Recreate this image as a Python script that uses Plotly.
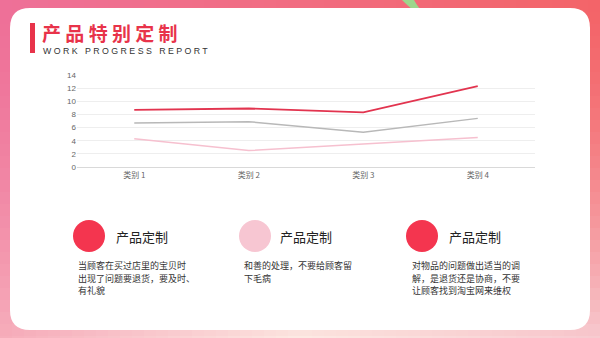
import plotly.graph_objects as go

W, H = 600, 338

categories = ["类别 1", "类别 2", "类别 3", "类别 4"]
series_red = [8.7, 8.9, 8.3, 12.3]
series_gray = [6.7, 6.9, 5.3, 7.4]
series_pink = [4.3, 2.5, 3.5, 4.5]
y_ticks = [0, 2, 4, 6, 8, 10, 12, 14]

title_text = "产 品 特 别 定 制"
subtitle_text = "W O R K   P R O G R E S S   R E P O R T"
card_heading = "产品定制"
card_lines = [
    ["当顾客在买过店里的宝贝时", "出现了问题要退货，要及时、", "有礼貌"],
    ["和善的处理，不要给顾客留", "下毛病"],
    ["对物品的问题做出适当的调", "解，是退货还是协商，不要", "让顾客找到淘宝网来维权"],
]
card_colors = ["#f4354f", "#f7c6d2", "#f4354f"]

fig = go.Figure()

fig.add_trace(go.Scatter(x=categories, y=series_red, mode="lines",
                         line=dict(color="#e2344f", width=1.8), showlegend=False))
fig.add_trace(go.Scatter(x=categories, y=series_gray, mode="lines",
                         line=dict(color="#b8b8b8", width=1.5), showlegend=False))
fig.add_trace(go.Scatter(x=categories, y=series_pink, mode="lines",
                         line=dict(color="#f6c0cf", width=1.5), showlegend=False))

shapes = []


def lerp(a, b, t):
    return tuple(a[i] + (b[i] - a[i]) * t for i in range(3))


top_l, top_m, top_r = (238, 112, 152), (241, 108, 128), (243, 100, 104)
bot_l, bot_m, bot_r = (246, 172, 186), (252, 232, 226), (247, 200, 206)


def bg(u, v):
    if u < 0.5:
        t = lerp(top_l, top_m, u / 0.5)
        b = lerp(bot_l, bot_m, u / 0.5)
    else:
        t = lerp(top_m, top_r, (u - 0.5) / 0.5)
        b = lerp(bot_m, bot_r, (u - 0.5) / 0.5)
    v2 = v ** 1.6
    c = lerp(t, b, v2)
    return "rgb(%d,%d,%d)" % tuple(int(round(x)) for x in c)


step = 12
nx, ny = W // step + 1, H // step + 1
for i in range(nx):
    for j in range(ny):
        x0, y0 = i * step, j * step
        col = bg((x0 + step / 2) / W, (y0 + step / 2) / H)
        shapes.append(dict(type="rect", xref="paper", yref="paper",
                           x0=x0 / W, x1=min(x0 + step + 1, W) / W,
                           y0=1 - min(y0 + step + 1, H) / H, y1=1 - y0 / H,
                           line=dict(width=0), fillcolor=col, layer="below"))


def px(x):
    return x / W


def py(y):
    return 1 - y / H


# green leaf
shapes.append(dict(type="path", xref="paper", yref="paper",
                   path="M %f,%f Q %f,%f %f,%f L %f,%f Q %f,%f %f,%f Z" % (
                       px(402), py(0), px(408), py(6), px(412), py(9),
                       px(420), py(9), px(416), py(4), px(414), py(0)),
                   fillcolor="#9cd68c", line=dict(width=0), layer="below"))

# white rounded card
L, T, R, B, r = 10, 8, 590, 330, 20
path = ("M {a},{b} L {c},{b} Q {R},{b} {R},{d} L {R},{e} Q {R},{B} {c},{B} "
        "L {a},{B} Q {L},{B} {L},{e} L {L},{d} Q {L},{b} {a},{b} Z")
p = path.format(a=px(L + r), b=py(T), c=px(R - r), R=px(R), d=py(T + r),
                e=py(B - r), B=py(B), L=px(L))
shapes.append(dict(type="path", xref="paper", yref="paper", path=p,
                   fillcolor="white", line=dict(width=0), layer="below"))

# title bar
shapes.append(dict(type="rect", xref="paper", yref="paper",
                   x0=px(30), x1=px(35), y0=py(53), y1=py(23),
                   fillcolor="#e8334a", line=dict(width=0), layer="below"))

# circles
circle_cx = [89, 255, 422]
for cx, col in zip(circle_cx, card_colors):
    shapes.append(dict(type="circle", xref="paper", yref="paper",
                       x0=px(cx - 16), x1=px(cx + 16), y0=py(252), y1=py(220),
                       fillcolor=col, line=dict(width=0), layer="below"))

annotations = []
annotations.append(dict(text="<b>" + title_text + "</b>", x=px(40), y=py(33),
                        xref="paper", yref="paper", xanchor="left", yanchor="middle",
                        showarrow=False,
                        font=dict(family="Noto Sans CJK SC", size=19, color="#e8334a")))
annotations.append(dict(text=subtitle_text, x=px(41), y=py(50.5),
                        xref="paper", yref="paper", xanchor="left", yanchor="middle",
                        showarrow=False,
                        font=dict(family="Liberation Sans", size=8.8, color="#333333")))

heading_x = [114, 278, 447]
body_x = [77, 243, 411]
for k in range(3):
    annotations.append(dict(text=card_heading, x=px(heading_x[k]), y=py(236),
                            xref="paper", yref="paper", xanchor="left", yanchor="middle",
                            showarrow=False,
                            font=dict(family="Noto Sans CJK SC", size=13, color="#222222")))
    for li, line in enumerate(card_lines[k]):
        annotations.append(dict(text=line, x=px(body_x[k] - 1), y=py(265.5 + li * 12.5),
                                xref="paper", yref="paper", xanchor="left", yanchor="middle",
                                showarrow=False,
                                font=dict(family="Noto Sans CJK SC", size=9, color="#333333")))

fig.update_layout(
    width=W, height=H,
    margin=dict(l=0, r=0, t=0, b=0, autoexpand=False),
    paper_bgcolor="white", plot_bgcolor="rgba(0,0,0,0)",
    shapes=shapes, annotations=annotations,
    xaxis=dict(domain=[px(77), px(535)], range=[-0.5, 3.5], showgrid=False, showline=True,
               linecolor="#d9d9d9", linewidth=1, ticks="",
               tickfont=dict(family="Noto Sans CJK SC", size=8, color="#666666"),
               fixedrange=True),
    yaxis=dict(domain=[py(167), py(75)], range=[0, 14], tickvals=y_ticks,
               showgrid=True, gridcolor="#eeeeee", gridwidth=1, zeroline=False,
               showline=False, ticks="",
               tickfont=dict(family="Liberation Sans", size=8, color="#666666"),
               fixedrange=True),
)

fig.write_html("out.html")
